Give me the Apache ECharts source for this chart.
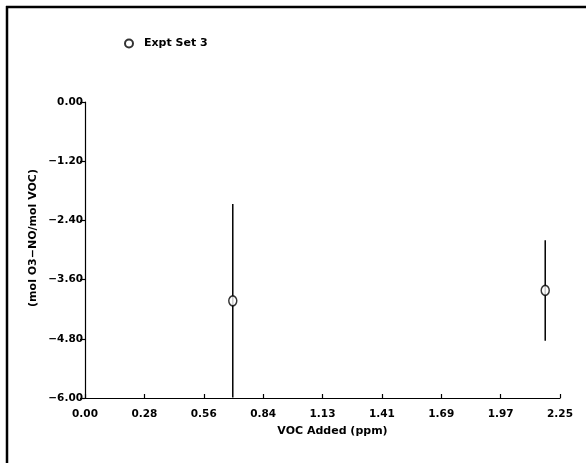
<!DOCTYPE html>
<html>
<head>
<meta charset="utf-8">
<script src="https://cdn.jsdelivr.net/npm/echarts@6/dist/echarts.min.js"></script>
<style>
  html, body { margin: 0; padding: 0; background: #fff; }
  #chart { width: 586px; height: 463px; }
</style>
</head>
<body>
<div id="chart"></div>
<script>
// Measured series: VOC added (ppm) vs incremental reactivity, with ± error
const seriesName = 'Expt Set 3';
const vocAdded = [0.70, 2.18];
const reactivity = [-4.03, -3.82];
const errHalf = [1.96, 1.02];

// Axis ranges and tick labels
const xMin = 0, xMax = 2.25, xStep = 0.28125;
const yMin = -6, yMax = 0, yStep = 1.2;
const xTickLabels = ['0.00', '0.28', '0.56', '0.84', '1.13', '1.41', '1.69', '1.97', '2.25'];
const yTickLabels = ['\u22126.00', '\u22124.80', '\u22123.60', '\u22122.40', '\u22121.20', '0.00'];
const xTitle = 'VOC Added (ppm)';
const yTitle = '(mol O3\u2212NO/mol VOC)';

const FONT = 'DejaVu Sans';
const points = vocAdded.map((x, i) => [x, reactivity[i]]);
const bars = vocAdded.map((x, i) => [x, reactivity[i] - errHalf[i], reactivity[i] + errHalf[i]]);

const chart = echarts.init(document.getElementById('chart'), null, { renderer: 'canvas' });

chart.setOption({
  backgroundColor: '#fff',
  animation: false,
  grid: { left: 85, right: 26, top: 102, bottom: 65, containLabel: false },
  legend: {
    left: 119, top: 33,
    itemWidth: 8, itemHeight: 10, itemGap: 8,
    textStyle: { fontFamily: FONT, fontWeight: 'bold', fontSize: 11, color: '#000', padding: [0, 0, 0, 6] },
    data: [seriesName]
  },
  xAxis: {
    type: 'value', min: xMin, max: xMax, interval: xStep,
    axisLine: { show: true, onZero: false, lineStyle: { color: '#000', width: 1.2 } },
    axisTick: { show: true, inside: true, length: 4, lineStyle: { color: '#000', width: 1.2 } },
    splitLine: { show: false },
    axisLabel: {
      margin: 11, color: '#000', fontFamily: FONT, fontWeight: 'bold', fontSize: 10.5,
      showMinLabel: true, showMaxLabel: true,
      formatter: v => xTickLabels[Math.round((v - xMin) / xStep)]
    },
    name: xTitle, nameLocation: 'middle', nameGap: 28,
    nameTextStyle: { color: '#000', fontFamily: FONT, fontWeight: 'bold', fontSize: 11, padding: [0, 0, 0, 20] }
  },
  yAxis: {
    type: 'value', min: yMin, max: yMax, interval: yStep,
    axisLine: { show: true, onZero: false, lineStyle: { color: '#000', width: 1.2 } },
    axisTick: { show: true, inside: false, length: 5, lineStyle: { color: '#000', width: 1.2 } },
    splitLine: { show: false },
    axisLabel: {
      margin: 2, color: '#000', fontFamily: FONT, fontWeight: 'bold', fontSize: 10.5,
      showMinLabel: true, showMaxLabel: true,
      formatter: v => yTickLabels[Math.round((v - yMin) / yStep)]
    }
  },
  graphic: [
    // page frame (top and left edges)
    { type: 'line', shape: { x1: 6, y1: 7, x2: 586, y2: 7 }, style: { stroke: '#000', lineWidth: 2.5 } },
    { type: 'line', shape: { x1: 7, y1: 6, x2: 7, y2: 463 }, style: { stroke: '#000', lineWidth: 2.5 } },
    {
      type: 'text', x: 33, y: 238, rotation: Math.PI / 2,
      style: {
        text: yTitle, fill: '#000', font: 'bold 11px "DejaVu Sans"',
        align: 'center', verticalAlign: 'middle'
      }
    }
  ],
  series: [
    {
      name: 'error',
      type: 'custom',
      data: bars,
      clip: true,
      renderItem: function (params, api) {
        const lo = api.coord([api.value(0), api.value(1)]);
        const hi = api.coord([api.value(0), api.value(2)]);
        return {
          type: 'line',
          shape: { x1: lo[0], y1: lo[1], x2: hi[0], y2: hi[1] },
          style: { stroke: '#000', lineWidth: 1.5 }
        };
      },
      z: 1
    },
    {
      name: seriesName,
      type: 'scatter',
      data: points,
      symbol: 'circle',
      symbolSize: [8, 10],
      itemStyle: { color: '#fff', borderColor: '#000', borderWidth: 1.6 },
      z: 2
    }
  ]
});
</script>
</body>
</html>
